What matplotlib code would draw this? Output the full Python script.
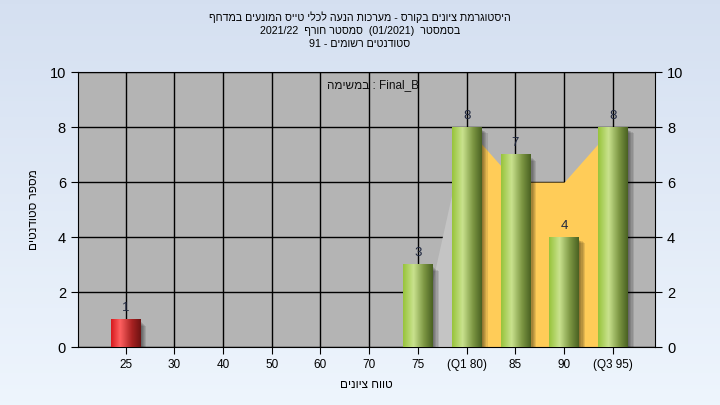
import re
import numpy as np
import matplotlib
matplotlib.use('Agg')
import matplotlib.pyplot as plt
from matplotlib.colors import LinearSegmentedColormap

plt.rcParams['font.family'] = ['Liberation Sans', 'DejaVu Sans']

# data
categories = ['25', '30', '40', '50', '60', '70', '75', '(Q1 80)', '85', '90', '(Q3 95)']
counts = [1, 0, 0, 0, 0, 0, 3, 8, 7, 4, 8]
bar_kind = ['red', None, None, None, None, None, 'green', 'green', 'green', 'green', 'green']
area_idx = [6, 7, 8, 9, 10]
area_vals = [0, 8, 6, 6, 8]

title_lines = ['היסטוגרמת ציונים בקורס - מערכות הנעה לכלי טייס המונעים במדחף',
               'בסמסטר  (01/2021)  סמסטר חורף  2021/22',
               'סטודנטים רשומים - 91']
task_text = 'Final_B : במשימה'
xlabel = 'טווח ציונים'
ylabel = 'מספר סטודנטים'


def vis(s):
    # matplotlib has no bidi, so flip Hebrew to visual order
    r = s[::-1]
    r = re.sub(r'[0-9A-Za-z/_.]+', lambda m: m.group(0)[::-1], r)
    return r.translate(str.maketrans('()', ')('))


fig = plt.figure(figsize=(7.2, 4.05), dpi=100)

# background gradient
bg = fig.add_axes([0, 0, 1, 1], zorder=-5)
top = np.array([0.835, 0.878, 0.945])
bot = np.array([0.933, 0.961, 0.992])
t = np.linspace(0, 1, 100)[:, None]
bg.imshow((top * (1 - t) + bot * t)[:, None, :], aspect='auto', extent=[0, 1, 0, 1])
bg.axis('off')

ax = fig.add_axes([0.108, 0.143, 0.802, 0.679])
ax.set_facecolor('#b4b4b4')
ax.set_axisbelow(True)
ax.grid(True, color='black', lw=1, zorder=0)

x = np.arange(len(categories))

# area behind the bars
ax.fill_between(x[area_idx[0]:area_idx[1] + 1], area_vals[0:2], color='#c4c4c4', lw=0, zorder=1)
ax.fill_between(x[area_idx[1]:area_idx[-1] + 1], area_vals[1:], color='#ffcc58', lw=0, zorder=1)

cmaps = {
    'green': LinearSegmentedColormap.from_list('g', [(0, '#98c43c'), (0.35, '#c9e28e'),
                                                     (0.7, '#7e9844'), (1, '#4a6222')]),
    'red': LinearSegmentedColormap.from_list('r', [(0, '#d81a1e'), (0.3, '#ff6060'),
                                                   (0.7, '#a82222'), (1, '#6e1212')]),
}
w = 0.6
for xi, h, kind in zip(x, counts, bar_kind):
    if not kind or h == 0:
        continue
    for k in range(5):
        ax.bar(xi + 0.03 + 0.025 * k, h - 0.1 - 0.03 * k, width=w, bottom=0,
               color='black', alpha=0.1, lw=0, zorder=2)
    grad = cmaps[kind](np.linspace(0, 1, 64))[None, :, :3]
    ax.imshow(grad, extent=[xi - w / 2, xi + w / 2, 0, h], aspect='auto', zorder=3)
    ax.text(xi, h + 0.2, str(h), ha='center', va='bottom', fontsize=9.5, color='#202840', zorder=4)

ax.set_xlim(-0.98, 10.87)
ax.set_ylim(0, 10)
ax.set_xticks(x)
ax.set_xticklabels(categories)
ax.set_yticks(range(0, 11, 2))
ax.tick_params(axis='x', labelsize=8.5, length=5, color='black')
ax.tick_params(axis='y', labelsize=10.5, length=5, left=True, right=True,
               labelleft=True, labelright=True)
for sp in ax.spines.values():
    sp.set_color('black')

ax.set_xlabel(vis(xlabel), fontsize=8.5, labelpad=6)
ax.set_ylabel(vis(ylabel), fontsize=8.5, labelpad=7)
ax.text(0.511, 0.953, vis(task_text), transform=ax.transAxes, ha='center', va='center',
        fontsize=8.5, color='#101010')

fig.text(0.5, 0.971, '\n'.join(vis(s) for s in title_lines), ha='center', va='top',
         fontsize=7.7, linespacing=1.33)

fig.savefig('out.png', dpi=100)
